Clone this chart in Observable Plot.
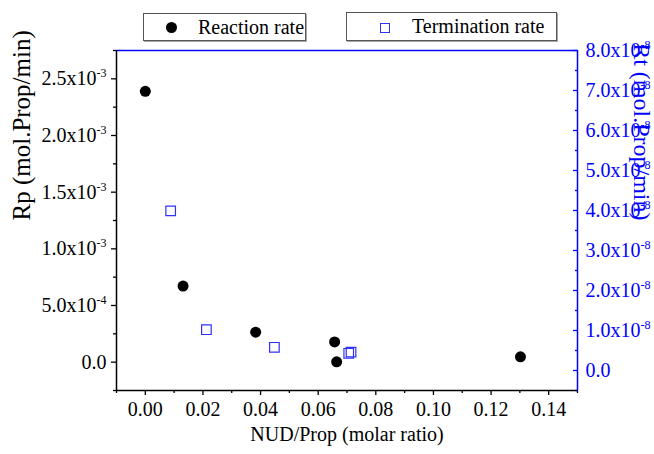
<!DOCTYPE html>
<html><head><meta charset="utf-8">
<script src="https://cdn.jsdelivr.net/npm/d3@7"></script>
<script src="https://cdn.jsdelivr.net/npm/@observablehq/plot@0.6"></script>
<style>
body{margin:0;background:#fff;}
#wrap{position:relative;width:654px;height:454px;overflow:hidden;font-family:"Liberation Serif","Times New Roman",serif;}
#wrap svg text{font-family:"Liberation Serif","Times New Roman",serif;}
.lg{position:absolute;background:#fff;border:1px solid #555;box-shadow:1px 1px 0 #aaa;box-sizing:border-box;}
.lg span{position:absolute;font-size:20px;line-height:20px;white-space:nowrap;color:#000;}
.lg i{position:absolute;display:block;box-sizing:border-box;}
</style></head><body><div id="wrap"></div>
<script>
// Data
const ratioRp = [0.000, 0.0131, 0.0383, 0.0657, 0.0664, 0.1302];
const rp = [2.39e-3, 0.671e-3, 0.265e-3, 0.179e-3, 0.003e-3, 0.047e-3];
const ratioRt = [0.0088, 0.0212, 0.0448, 0.0706, 0.0714];
const rt = [3.99e-8, 1.02e-8, 0.58e-8, 0.43e-8, 0.46e-8];

// Axes
const xDomain = [-0.01, 0.15];
const rpDomain = [-0.25e-3, 2.75e-3];
const rtDomain = [-0.5e-8, 8.0e-8];
const xTicks = [0, 0.02, 0.04, 0.06, 0.08, 0.10, 0.12, 0.14];
const xTickLabels = ["0.00","0.02","0.04","0.06","0.08","0.10","0.12","0.14"];
const xMinor = [-0.01, 0.01, 0.03, 0.05, 0.07, 0.09, 0.11, 0.13, 0.15];
const rpTicks = [0, 0.5e-3, 1.0e-3, 1.5e-3, 2.0e-3, 2.5e-3];
const rpTickLabels = ["0.0","5.0x10^-4","1.0x10^-3","1.5x10^-3","2.0x10^-3","2.5x10^-3"];
const rpMinor = [-0.25e-3, 0.25e-3, 0.75e-3, 1.25e-3, 1.75e-3, 2.25e-3, 2.75e-3];
const rtTicks = [0, 1e-8, 2e-8, 3e-8, 4e-8, 5e-8, 6e-8, 7e-8, 8e-8];
const rtTickLabels = ["0.0","1.0x10^-8","2.0x10^-8","3.0x10^-8","4.0x10^-8","5.0x10^-8","6.0x10^-8","7.0x10^-8","8.0x10^-8"];
const rtMinor = [-0.5e-8, 0.5e-8, 1.5e-8, 2.5e-8, 3.5e-8, 4.5e-8, 5.5e-8, 6.5e-8, 7.5e-8];

const xTitle = "NUD/Prop (molar ratio)";
const rpTitle = "Rp (mol.Prop/min)";
const rtTitle = "Rt (mol.Prop/min)";
const legendLabels = ["Reaction rate", "Termination rate"];

const blue = "#0000ff";
const font = "Liberation Serif";
// map the right-axis (Rt) values onto the left (Rp) scale
const toRp = v => rpDomain[0] + (v - rtDomain[0]) / (rtDomain[1] - rtDomain[0]) * (rpDomain[1] - rpDomain[0]);

const rpRows = ratioRp.map((x, i) => ({x, y: rp[i]}));
const rtRows = ratioRt.map((x, i) => ({x, y: toRp(rt[i])}));
const rtTickPos = rtTicks.map(toRp);
const rtMinorPos = rtMinor.map(toRp);
const xLab = new Map(xTicks.map((t, i) => [t, xTickLabels[i]]));
const rpLab = new Map(rpTicks.map((t, i) => [t, rpTickLabels[i]]));
const rtLab = new Map(rtTickPos.map((t, i) => [t, rtTickLabels[i]]));

const chart = Plot.plot({
  width: 654, height: 454,
  marginLeft: 116, marginRight: 77, marginTop: 50, marginBottom: 64,
  style: {fontFamily: font, fontSize: "20px", color: "#000", background: "#fff", overflow: "visible"},
  x: {domain: xDomain},
  y: {domain: rpDomain},
  marks: [
    Plot.axisX(xTicks, {tickSize: 5, tickPadding: 6, tickFormat: d => xLab.get(d), strokeWidth: 1.3, label: null, fontFamily: font, fontSize: 20}),
    Plot.axisX(xMinor, {tickSize: 3, text: null, strokeWidth: 1.3, label: null}),
    Plot.axisY(rpTicks, {anchor: "left", tickSize: 5, tickPadding: 5, tickFormat: d => rpLab.get(d), strokeWidth: 1.3, label: null, fontFamily: font, fontSize: 20}),
    Plot.axisY(rpMinor, {anchor: "left", tickSize: 3, text: null, strokeWidth: 1.3, label: null}),
    Plot.axisY(rtTickPos, {anchor: "right", tickSize: -5, text: null, color: blue, strokeWidth: 1.3, label: null}),
    Plot.axisY(rtMinorPos, {anchor: "right", tickSize: -3, text: null, color: blue, strokeWidth: 1.3, label: null}),
    Plot.axisY(rtTickPos, {anchor: "right", tickSize: 0, tickPadding: 8, tickFormat: d => rtLab.get(d), color: blue, label: null, fontFamily: font, fontSize: 20}),
    Plot.ruleY([rpDomain[1]], {stroke: blue, strokeWidth: 1.5}),
    Plot.ruleX([xDomain[1]], {stroke: blue, strokeWidth: 1.5}),
    Plot.ruleX([xDomain[0]], {stroke: "#000", strokeWidth: 1.5}),
    Plot.ruleY([rpDomain[0]], {stroke: "#000", strokeWidth: 1.5}),
    Plot.dot(rpRows, {x: "x", y: "y", r: 5.5, fill: "#000", stroke: "none"}),
    Plot.dot(rtRows, {x: "x", y: "y", r: 5.4, symbol: "square", fill: "none", stroke: "#3030ff", strokeWidth: 1.2}),
    Plot.text([xTitle], {frameAnchor: "bottom", dy: 50, text: d => d, fontSize: 20, fill: "#000", fontFamily: font}),
    Plot.text([rpTitle], {frameAnchor: "left", rotate: -90, dx: -95, text: d => d, fontSize: 25, fill: "#000", fontFamily: font}),
    Plot.text([rtTitle], {frameAnchor: "right", rotate: 90, dx: 64, text: d => d, fontSize: 24, fill: blue, fontFamily: font})
  ]
});

// render "10^-3" style labels with real superscripts
chart.querySelectorAll("text").forEach(t => {
  const s = t.textContent;
  if (s.includes("^")) {
    const [base, exp] = s.split("^");
    t.textContent = base;
    const sup = document.createElementNS("http://www.w3.org/2000/svg", "tspan");
    sup.setAttribute("dy", "-8");
    sup.setAttribute("font-size", "12px");
    sup.textContent = exp;
    t.appendChild(sup);
  }
});

const wrap = document.getElementById("wrap");
wrap.appendChild(chart);

// Legend (two boxed entries above the frame)
function legendBox(left, top, w, h, markerHtml, label, textLeft) {
  const b = document.createElement("div");
  b.className = "lg";
  Object.assign(b.style, {left: left + "px", top: top + "px", width: w + "px", height: h + "px"});
  b.innerHTML = markerHtml;
  const s = document.createElement("span");
  s.textContent = label;
  Object.assign(s.style, {left: textLeft + "px", top: "3px"});
  b.appendChild(s);
  wrap.appendChild(b);
}
legendBox(143, 13, 163, 28,
  '<i style="left:22px;top:8px;width:11px;height:11px;border-radius:50%;background:#000"></i>',
  legendLabels[0], 54);
legendBox(346, 12, 211, 29,
  '<i style="left:33px;top:10px;width:10px;height:10px;border:1.2px solid #3030ff"></i>',
  legendLabels[1], 65);
</script>
</body></html>
